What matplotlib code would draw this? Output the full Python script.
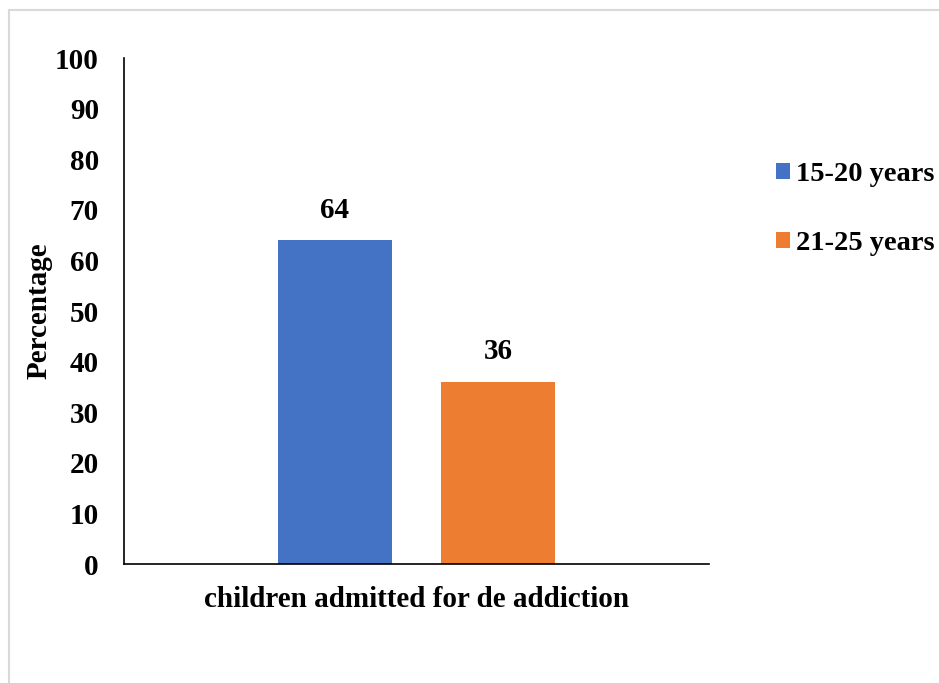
import matplotlib.pyplot as plt
from matplotlib.patches import Rectangle

# data
category = "children admitted for de addiction"
groups = ["15-20 years", "21-25 years"]
values = [64, 36]
colors = ["#4472C4", "#ED7D31"]
offsets = [-0.14, 0.14]

plt.rcParams['font.family'] = ['Liberation Serif', 'DejaVu Serif']
plt.rcParams['font.weight'] = 'bold'

fig = plt.figure(figsize=(9.39, 6.83), dpi=100)
ax = fig.add_axes([0.132, 0.174, 0.623, 0.741])

# light frame around the chart area
fig.patches.append(Rectangle((9 / 939, -0.1), 1.2, (683 - 10) / 683 + 0.1,
                             transform=fig.transFigure, fill=False,
                             edgecolor='#d9d9d9', linewidth=1.5))

for off, v, c, g in zip(offsets, values, colors, groups):
    ax.bar(off, v, width=0.195, color=c, label=g)
    ax.text(off, v + 3.3, str(v), ha='center', va='bottom', fontsize=21, fontweight='bold')

ax.set_xlim(-0.5, 0.5)
ax.set_ylim(0, 100)
ax.set_yticks(range(0, 101, 10))
ax.set_xticks([])
ax.tick_params(axis='y', length=0, pad=18, labelsize=21)
for s in ['top', 'right']:
    ax.spines[s].set_visible(False)
ax.spines['left'].set_linewidth(1.2)
ax.spines['bottom'].set_linewidth(1.2)

ax.set_xlabel(category, fontsize=21, fontweight='bold', labelpad=16)
ax.set_ylabel("Percentage", fontsize=21, fontweight='bold', labelpad=2)

ax.legend(loc='center left', bbox_to_anchor=(0.826, 0.694), bbox_transform=fig.transFigure,
          frameon=False, fontsize=20.5, handlelength=0.5, handleheight=0.5, handletextpad=0.2,
          labelspacing=1.55, borderaxespad=0, borderpad=0)

fig.savefig("out.png", dpi=100)
